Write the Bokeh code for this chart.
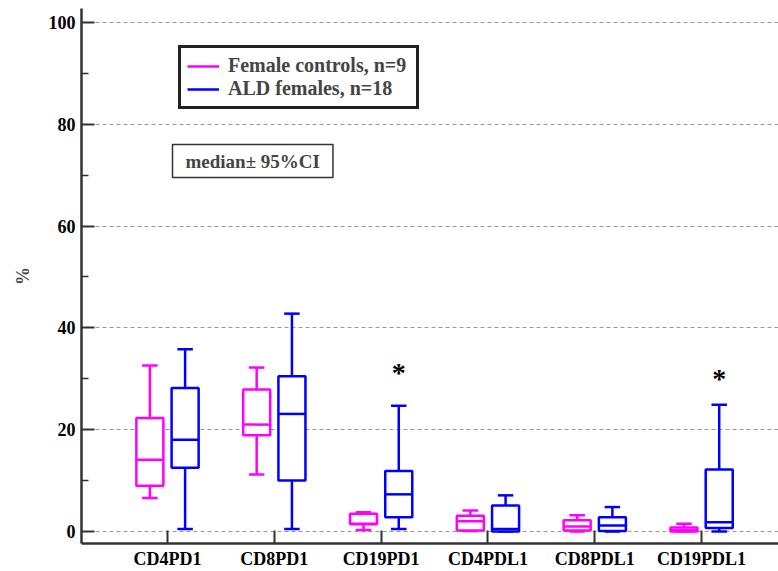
from bokeh.plotting import figure
from bokeh.models import (ColumnDataSource, FixedTicker, Legend, LegendItem, Label, Range1d)
from bokeh.transform import dodge
from bokeh.core.properties import value
from bokeh.embed import file_html
from bokeh.resources import INLINE

categories = ["CD4PD1", "CD8PD1", "CD19PD1", "CD4PDL1", "CD8PDL1", "CD19PDL1"]
positions = [1, 2, 3, 4, 5, 6]

ctrl_low = [6.6, 11.2, 0.3, 0.1, 0.0, 0.0]
ctrl_q1 = [9.0, 18.9, 1.4, 0.2, 0.2, 0.0]
ctrl_med = [14.1, 21.0, 1.5, 2.0, 1.0, 0.3]
ctrl_q3 = [22.3, 27.9, 3.5, 3.1, 2.2, 0.8]
ctrl_high = [32.6, 32.2, 3.8, 4.1, 3.2, 1.5]

ald_low = [0.5, 0.5, 0.5, 0.0, 0.0, 0.0]
ald_q1 = [12.5, 10.0, 2.8, 0.0, 0.1, 0.7]
ald_med = [18.0, 23.1, 7.3, 0.5, 1.2, 1.8]
ald_q3 = [28.2, 30.5, 11.9, 5.1, 2.8, 12.2]
ald_high = [35.8, 42.8, 24.7, 7.1, 4.8, 24.9]

sig_pos = [3, 6]
sig_y = [31.6, 30.5]

y_ticks = [0, 20, 40, 60, 80, 100]
y_minor = [10, 30, 50, 70, 90]

FONT = "Liberation Serif"
MAGENTA = "#FF00FF"
BLUE = "#0000FF"

p = figure(width=778, height=571, output_backend="svg", toolbar_location=None,
           x_range=Range1d(0.195, 6.72), y_range=Range1d(-2.36, 102.75),
           min_border_left=81, min_border_right=0, min_border_top=8, min_border_bottom=0)
p.outline_line_color = None
p.background_fill_color = "white"

for ax in (p.xaxis[0], p.yaxis[0]):
    ax.axis_line_color = "#333333"
    ax.axis_line_width = 2.5
    ax.major_tick_line_color = "#333333"
    ax.major_tick_line_width = 2
    ax.major_tick_in = 13
    ax.major_tick_out = 0
    ax.minor_tick_line_color = "#333333"
    ax.minor_tick_line_width = 1.5
    ax.major_label_text_font = FONT
    ax.major_label_text_font_style = "bold"
    ax.major_label_text_font_size = "18px"
    ax.major_label_text_color = "black"

p.xaxis.ticker = FixedTicker(ticks=positions)
p.xaxis.major_label_overrides = {pos: c for pos, c in zip(positions, categories)}
p.xaxis.minor_tick_line_color = None
p.xaxis.major_label_standoff = 5

p.yaxis.ticker = FixedTicker(ticks=y_ticks, minor_ticks=y_minor)
p.yaxis.minor_tick_in = 7
p.yaxis.minor_tick_out = 0
p.yaxis.major_label_standoff = 6
p.yaxis.axis_label = "%"
p.yaxis.axis_label_text_font = FONT
p.yaxis.axis_label_text_font_style = "bold"
p.yaxis.axis_label_text_font_size = "18px"
p.yaxis.axis_label_standoff = 13

p.xgrid.grid_line_color = None
p.ygrid.grid_line_color = "#999999"
p.ygrid.grid_line_dash = "4 3"
p.ygrid.grid_line_width = 1

BOX_W = 0.253
CAP_W = 0.145
OFF = 0.165

def draw(low, q1, med, q3, high, off, color):
    src = ColumnDataSource(dict(x=positions, low=low, q1=q1, med=med, q3=q3, high=high))
    w1 = p.segment(x0=dodge("x", off, range=p.x_range), x1=dodge("x", off, range=p.x_range),
                   y0="q3", y1="high", source=src, line_color=color, line_width=2.5)
    p.segment(x0=dodge("x", off, range=p.x_range), x1=dodge("x", off, range=p.x_range),
              y0="low", y1="q1", source=src, line_color=color, line_width=2.5)
    p.segment(x0=dodge("x", off - CAP_W / 2, range=p.x_range), x1=dodge("x", off + CAP_W / 2, range=p.x_range),
              y0="high", y1="high", source=src, line_color=color, line_width=2.5)
    p.segment(x0=dodge("x", off - CAP_W / 2, range=p.x_range), x1=dodge("x", off + CAP_W / 2, range=p.x_range),
              y0="low", y1="low", source=src, line_color=color, line_width=2.5)
    p.vbar(x=dodge("x", off, range=p.x_range), width=BOX_W, top="q3", bottom="q1", source=src,
           fill_color="white", line_color=color, line_width=2.5)
    p.segment(x0=dodge("x", off - BOX_W / 2, range=p.x_range), x1=dodge("x", off + BOX_W / 2, range=p.x_range),
              y0="med", y1="med", source=src, line_color=color, line_width=2.5)
    return w1

r_ctrl = draw(ctrl_low, ctrl_q1, ctrl_med, ctrl_q3, ctrl_high, -OFF, MAGENTA)
r_ald = draw(ald_low, ald_q1, ald_med, ald_q3, ald_high, OFF, BLUE)

sig_src = ColumnDataSource(dict(x=sig_pos, y=sig_y, t=["*"] * len(sig_pos)))
p.text(x=dodge("x", OFF, range=p.x_range), y="y", text="t", source=sig_src,
       text_font=value(FONT), text_font_style="bold", text_font_size="28px",
       text_align="center", text_baseline="middle", text_color="black", y_offset=2)

legend = Legend(items=[LegendItem(label="Female controls, n=9", renderers=[r_ctrl]),
                       LegendItem(label="ALD females, n=18", renderers=[r_ald])],
                location=(97, 434))
legend.border_line_color = "#222222"
legend.border_line_alpha = 1
legend.border_line_width = 3
legend.background_fill_alpha = 1
legend.padding = 6
legend.spacing = 0
legend.margin = 0
legend.label_height = 20
legend.glyph_height = 20
legend.glyph_width = 32
legend.label_standoff = 9
legend.label_width = 182
legend.label_text_font = FONT
legend.label_text_font_style = "bold"
legend.label_text_font_size = "20px"
legend.label_text_baseline = "middle"
p.add_layout(legend, "center")

note = Label(x=91, y=366, x_units="screen", y_units="screen", text="median\u00b1 95%CI",
             text_font=FONT, text_font_style="bold", text_font_size="19px",
             border_line_color="#333333", border_line_width=1.5,
             background_fill_color="white", padding=dict(left=13, right=13, top=6, bottom=6))
p.add_layout(note)

open("out.html", "w").write(file_html(p, INLINE))
